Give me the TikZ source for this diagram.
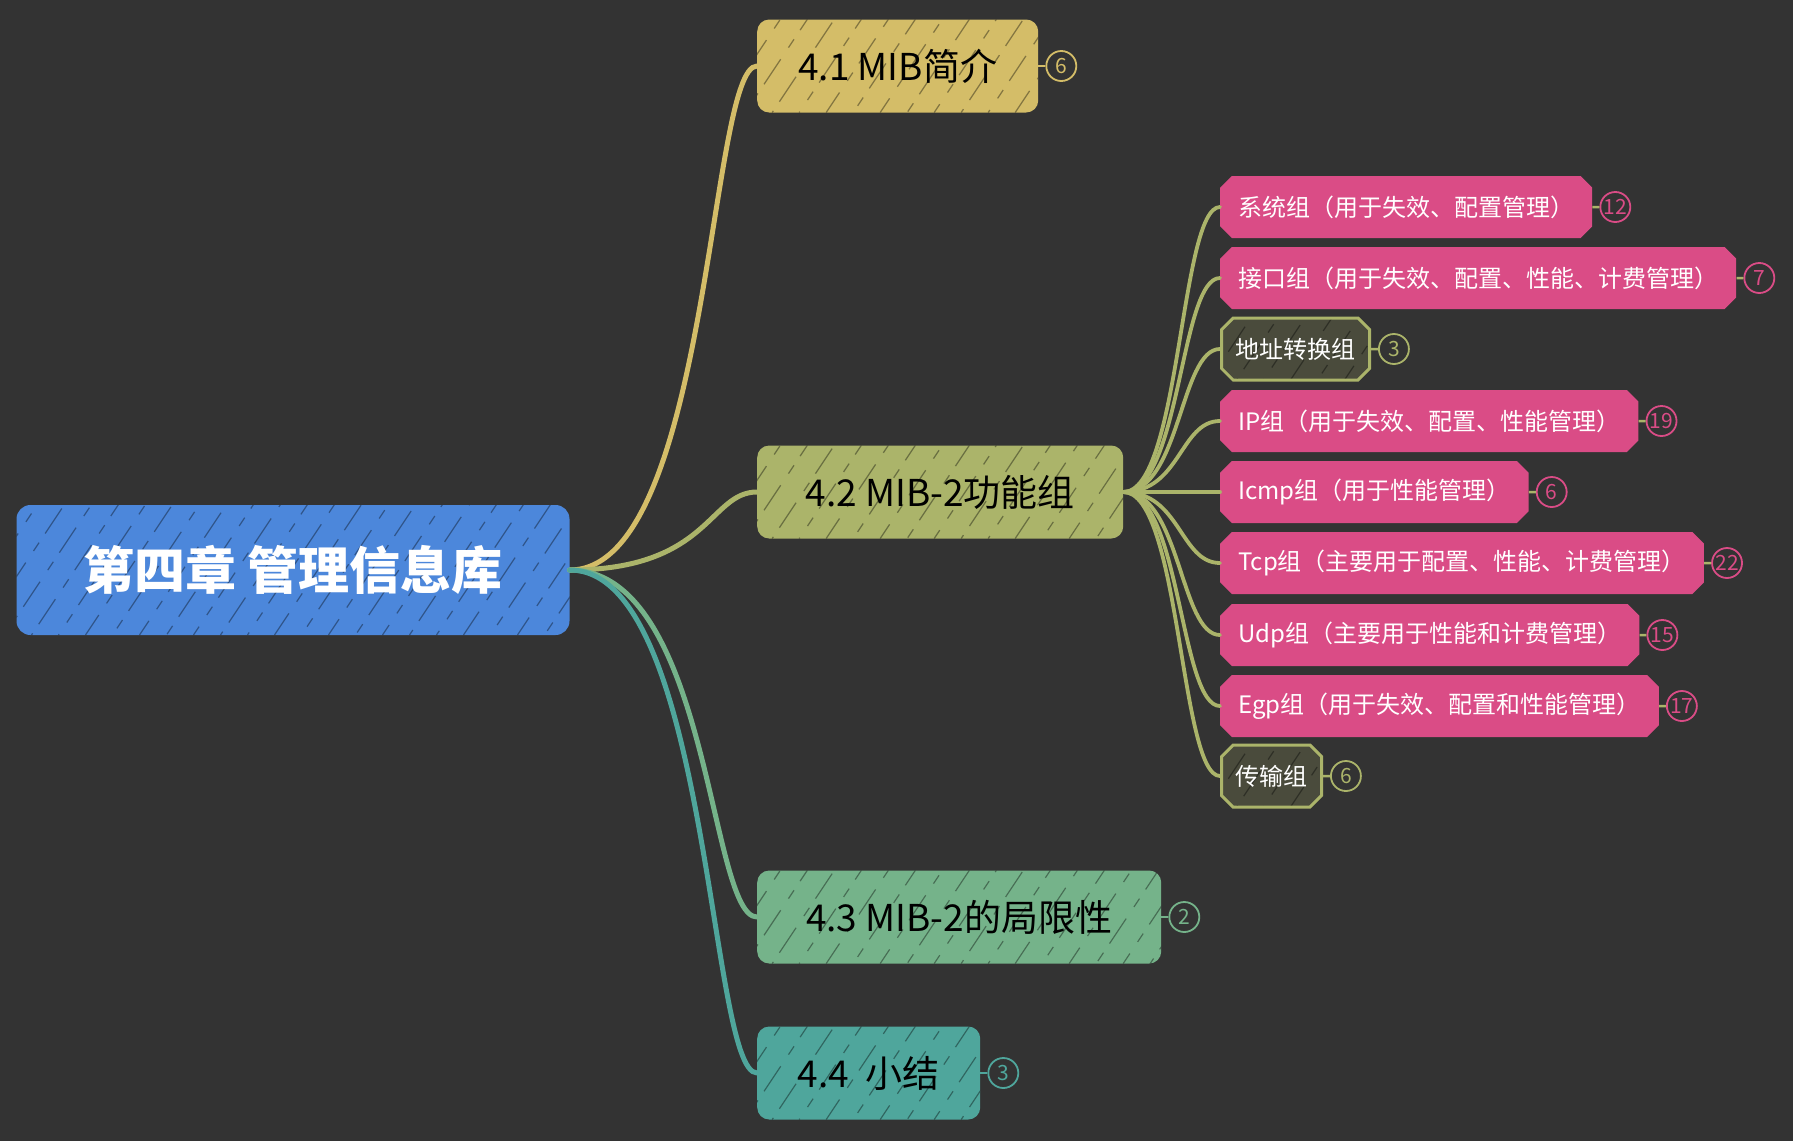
\documentclass[tikz,border=0pt]{standalone}
\usepackage{fontspec}
\setmainfont{Noto Sans CJK SC}
\usetikzlibrary{positioning,shapes.misc}
\definecolor{bgc}{HTML}{333333}
\definecolor{rootc}{HTML}{4C87DB}
\definecolor{goldc}{HTML}{D4BD68}
\definecolor{olivec}{HTML}{ABB46A}
\definecolor{greenc}{HTML}{75B38A}
\definecolor{tealc}{HTML}{4FA69C}
\definecolor{pinkc}{HTML}{DA4C86}
\definecolor{darkc}{HTML}{4A4B3C}
\begin{document}
\begin{tikzpicture}[x=1pt,y=-1pt,
  hatch/.style={path picture={
      \foreach \k [evaluate=\k as \ph using {mod(abs(\k)*7,53)}] in {-120,-93,...,600}
        \draw[black,opacity=.38,line width=1.2pt,dash pattern=on 30pt off 14pt on 10pt off 11pt,dash phase=\ph pt]
          ([xshift=\k pt]path picture bounding box.south west) -- ++(100pt,150pt);}},
  topic/.style={rectangle,rounded corners=12pt,fill=#1,hatch,text=black,
    font=\fontsize{37}{37}\selectfont,anchor=west,minimum height=93pt},
  sub/.style={chamfered rectangle,chamfered rectangle xsep=8pt,fill=pinkc,text=white,
    font=\fontsize{24}{24}\selectfont,anchor=west,minimum height=62pt,inner xsep=10pt},
  subdark/.style={sub,fill=darkc,draw=olivec,line width=3pt,inner xsep=6pt,hatch},
  badge/.style={circle,draw=#1,text=#1,line width=1.8pt,minimum size=30pt,inner sep=0pt,
    font=\fontsize{21}{21}\selectfont},
  link/.style={#1,line width=2.5pt},
  branch/.style={#1,line width=5pt,line cap=round},
  twig/.style={olivec,line width=3.8pt,line cap=round}
  ]
  \path[use as bounding box,fill=bgc] (0,0) rectangle (1793,1141);

  % central topic
  \node[rectangle,rounded corners=14pt,fill=rootc,hatch,text=white,
    font=\fontsize{51}{51}\selectfont\bfseries,
    minimum width=553pt,minimum height=130pt] (root) at (293,570) {第四章 管理信息库};

  % main topics
  \node[topic=goldc,minimum width=281pt] (mib) at (757,66) {4.1 MIB简介};
  \node[topic=olivec,minimum width=366pt] (func) at (757,492) {4.2 MIB-2功能组};
  \node[topic=greenc,minimum width=404pt] (limit) at (757,917) {4.3 MIB-2的局限性};
  \node[topic=tealc,minimum width=223pt] (summ) at (757,1073) {4.4 \ 小结};

  % groups of MIB-2
  \node[sub,minimum width=364pt] (sys) at (1220,207) {系统组（用于失效、配置管理）};
  \node[sub,minimum width=510pt] (iface) at (1220,278) {接口组（用于失效、配置、性能、计费管理）};
  \node[subdark,minimum width=140pt] (addr) at (1220,349) {地址转换组};
  \node[sub,minimum width=407pt] (ip) at (1220,421) {IP组（用于失效、配置、性能管理）};
  \node[sub,minimum width=297pt] (icmp) at (1220,492) {Icmp组（用于性能管理）};
  \node[sub,minimum width=478pt] (tcp) at (1220,563) {Tcp组（主要用于配置、性能、计费管理）};
  \node[sub,minimum width=411pt] (udp) at (1220,635) {Udp组（主要用于性能和计费管理）};
  \node[sub,minimum width=431pt] (egp) at (1220,706) {Egp组（用于失效、配置和性能管理）};
  \node[subdark,minimum width=92pt] (trans) at (1220,776) {传输组};

  % branches
  \foreach \n/\c in {mib/goldc,func/olivec,limit/greenc,summ/tealc}
    \draw[branch=\c] (root.east) .. controls +(140,0) and +(-48,0) .. (\n.west);
  \foreach \n in {sys,iface,addr,ip,icmp,tcp,udp,egp,trans}
    \draw[twig] (func.east) .. controls +(57,0) and +(-40,0) .. (\n.west);

  % counters
  \node[badge=goldc,right=7pt of mib] (mibn) {6};
  \node[badge=greenc,right=7pt of limit] (limitn) {2};
  \node[badge=tealc,right=7pt of summ] (summn) {3};
  \node[badge=pinkc,right=7pt of sys] (sysn) {12};
  \node[badge=pinkc,right=7pt of iface] (ifacen) {7};
  \node[badge=olivec,right=7pt of addr] (addrn) {3};
  \node[badge=pinkc,right=7pt of ip] (ipn) {19};
  \node[badge=pinkc,right=7pt of icmp] (icmpn) {6};
  \node[badge=pinkc,right=7pt of tcp] (tcpn) {22};
  \node[badge=pinkc,right=7pt of udp] (udpn) {15};
  \node[badge=pinkc,right=7pt of egp] (egpn) {17};
  \node[badge=olivec,right=7pt of trans] (transn) {6};
  \draw[link=goldc] (mib) -- (mibn);
  \draw[link=greenc] (limit) -- (limitn);
  \draw[link=tealc] (summ) -- (summn);
  \foreach \n in {sys,iface,addr,ip,icmp,tcp,udp,egp,trans}
    \draw[link=olivec] (\n) -- (\n n);
\end{tikzpicture}
\end{document}
